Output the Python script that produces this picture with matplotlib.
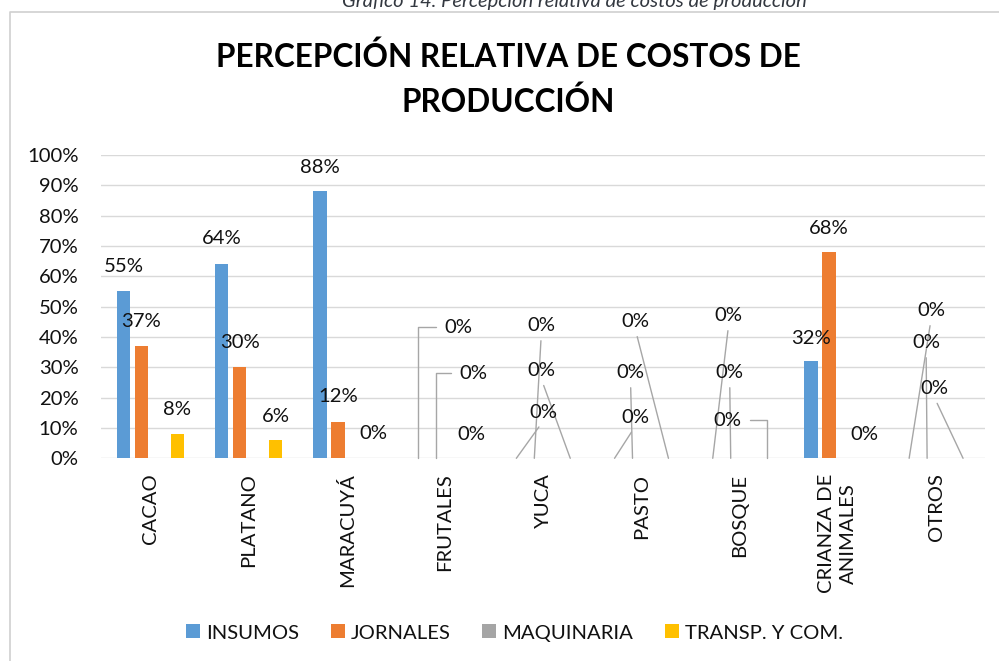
import numpy as np
import matplotlib
matplotlib.use("Agg")
import matplotlib.pyplot as plt
from matplotlib.patches import Patch
from matplotlib.lines import Line2D

# Data
categories = ["CACAO", "PLATANO", "MARACUYÁ", "FRUTALES", "YUCA", "PASTO",
              "BOSQUE", "CRIANZA DE\nANIMALES", "OTROS"]
series_names = ["INSUMOS", "JORNALES", "MAQUINARIA", "TRANSP. Y COM."]
insumos = [55, 64, 88, 0, 0, 0, 0, 32, 0]
jornales = [37, 30, 12, 0, 0, 0, 0, 68, 0]
maquinaria = [0, 0, 0, 0, 0, 0, 0, 0, 0]
transp = [8, 6, 0, 0, 0, 0, 0, 0, 0]
yticks = list(range(0, 101, 10))

colors = ["#5B9BD5", "#ED7D31", "#A5A5A5", "#FFC000"]
series = [insumos, jornales, maquinaria, transp]

# data label placement (category, series, dx px, dy px, leader type)
label_specs = [
    (0, 0, 0, 25, None), (0, 1, 0, 25, None), (0, 3, 0, 25, None),
    (1, 0, 0, 26, None), (1, 1, 0, 25, None), (1, 3, 0, 24, None),
    (2, 0, 0, 24, None), (2, 1, 0, 25, None), (2, 3, 0, 25, None),
    (3, 0, 40, 131, "elbow_l"), (3, 1, 37, 85, "elbow_l"), (3, 3, -1, 24, None),
    (4, 1, 7, 133, "line"), (4, 3, -29, 88, "line"), (4, 0, 27, 46, "line"),
    (5, 3, -33, 137, "line"), (5, 1, -2, 86, "line"), (5, 0, 21, 41, "line"),
    (6, 0, 16, 143, "line"), (6, 1, -1, 86, "line"), (6, 3, -39, 38, "elbow_r"),
    (7, 0, 0, 23, None), (7, 1, 0, 24, None), (7, 3, 0, 24, None),
    (8, 0, 22, 148, "line"), (8, 1, -1, 116, "line"), (8, 3, -29, 70, "line"),
]

plt.rcParams["font.family"] = ["Lato", "DejaVu Sans"]
FS = 14.6
TXT = "#111111"
GRID = "#D9D9D9"
LEAD = "#A6A6A6"

W, H = 999, 661
fig = plt.figure(figsize=(W / 100, H / 100), dpi=100)
ax = fig.add_axes([101.4 / W, 1 - 458.3 / H, (985.2 - 101.4) / W, (458.3 - 155) / H])

x = np.arange(len(categories))
bw = 0.137
step = 0.183
for k, vals in enumerate(series):
    ax.bar(x + (k - 1.5) * step, vals, width=bw, color=colors[k], zorder=2)

for ci, si, dx, dy, lead in label_specs:
    v = series[si][ci]
    xb = x[ci] + (si - 1.5) * step
    kw = dict(xy=(xb, v), xytext=(dx, dy), textcoords="offset pixels",
              ha="center", va="center", fontsize=FS, color=TXT, zorder=4)
    if lead == "line":
        kw["arrowprops"] = dict(arrowstyle="-", color=LEAD, lw=1.0,
                                shrinkA=3, shrinkB=0, relpos=(0.5, 0))
    elif lead == "elbow_l":
        kw["arrowprops"] = dict(arrowstyle="-", color=LEAD, lw=1.0,
                                shrinkA=4, shrinkB=0, relpos=(0, 0.5),
                                connectionstyle="angle,angleA=0,angleB=90,rad=0")
    elif lead == "elbow_r":
        kw["arrowprops"] = dict(arrowstyle="-", color=LEAD, lw=1.0,
                                shrinkA=4, shrinkB=0, relpos=(1, 0.5),
                                connectionstyle="angle,angleA=0,angleB=90,rad=0")
    ax.annotate(f"{v}%", **kw)

ax.set_xlim(-0.5, len(categories) - 0.5)
ax.set_ylim(0, 100)
ax.set_yticks(yticks)
ax.set_yticklabels([f"{t}%" for t in yticks], fontsize=FS, color=TXT)
ax.set_xticks(x)
ax.set_xticklabels(categories, rotation=90, ha="center", va="top",
                   fontsize=FS, color=TXT, multialignment="center", linespacing=1.35)
ax.tick_params(axis="y", length=0, pad=16.5)
ax.tick_params(axis="x", length=0, pad=11)
ax.grid(axis="y", color=GRID, lw=1.0, zorder=0)
ax.set_axisbelow(True)
for s in ax.spines.values():
    s.set_visible(False)
ax.set_facecolor("none")

# chart frame
fig.add_artist(Line2D([9.5 / W, 9.5 / W, 1.01], [-0.01, 1 - 12 / H, 1 - 12 / H],
                      color="#D0D0D0", lw=1.2, transform=fig.transFigure))

# title and caption
fig.text(508.5 / W, 1 - 79 / H, "PERCEPCIÓN RELATIVA DE COSTOS DE\nPRODUCCIÓN",
         ha="center", va="center", fontsize=22.7, fontweight="bold",
         color="#000000", linespacing=1.55)
fig.text(574 / W, 1 - 7 / H, "Gráfico 14. Percepción relativa de costos de producción",
         ha="center", va="baseline", fontsize=14.5, style="italic", color="#333840")

handles = [Patch(facecolor=c, edgecolor="none") for c in colors]
fig.legend(handles, series_names, loc="center", bbox_to_anchor=(514.5 / W, 1 - 633 / H),
           ncol=4, frameon=False, fontsize=FS, handlelength=0.69, handleheight=0.69,
           handletextpad=0.3, columnspacing=1.55, borderpad=0, labelcolor=TXT)

fig.savefig("out.png", dpi=100)
